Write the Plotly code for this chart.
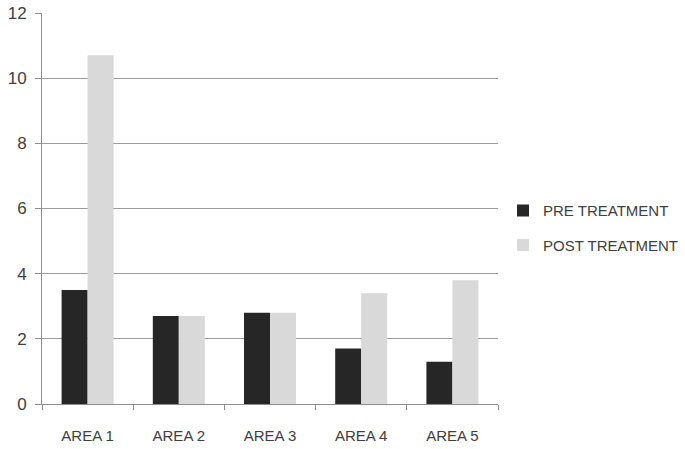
import plotly.graph_objects as go

areas = ["AREA 1", "AREA 2", "AREA 3", "AREA 4", "AREA 5"]
pre_treatment = [3.5, 2.7, 2.8, 1.7, 1.3]
post_treatment = [10.7, 2.7, 2.8, 3.4, 3.8]

FONT = "Liberation Sans"

fig = go.Figure()
fig.add_trace(go.Bar(x=areas, y=pre_treatment, name="PRE TREATMENT",
                     marker=dict(color="#262626", line=dict(width=0)),
                     legendgroup="pre"))
fig.add_trace(go.Bar(x=areas, y=post_treatment, name="POST TREATMENT",
                     marker=dict(color="#d9d9d9", line=dict(width=0)),
                     legendgroup="post"))

fig.update_layout(
    width=685, height=449,
    margin=dict(l=42, r=187, t=13, b=45, autoexpand=False),
    paper_bgcolor="white", plot_bgcolor="white",
    barmode="group", bargap=0.43, bargroupgap=0,
    font=dict(family=FONT, size=15, color="#404040"),
    showlegend=True,
    legend=dict(x=1.011, y=0.451, xanchor="left", yanchor="middle",
                font=dict(family=FONT, size=15, color="#404040"),
                tracegroupgap=12, itemwidth=30, bgcolor="rgba(0,0,0,0)"),
)
fig.update_xaxes(
    automargin=False,
    showline=True, linecolor="#8c8c8c", linewidth=1,
    ticks="outside", tickson="boundaries", ticklen=5, tickcolor="#8c8c8c",
    showgrid=False, tickfont=dict(size=15), ticklabelstandoff=18,
)
fig.update_yaxes(
    automargin=False,
    range=[0, 12], dtick=2, showline=True, linecolor="#8c8c8c", linewidth=1,
    ticks="outside", ticklen=6, tickcolor="#8c8c8c",
    showgrid=True, gridcolor="#9c9c9c", gridwidth=1, zeroline=False,
    tickfont=dict(size=17), ticklabelstandoff=5,
)

# drop the default 8px body margin so the figure sits at the window origin
fig.write_html("out.html", config={"displayModeBar": False},
               post_script="document.body.style.margin='0';")
